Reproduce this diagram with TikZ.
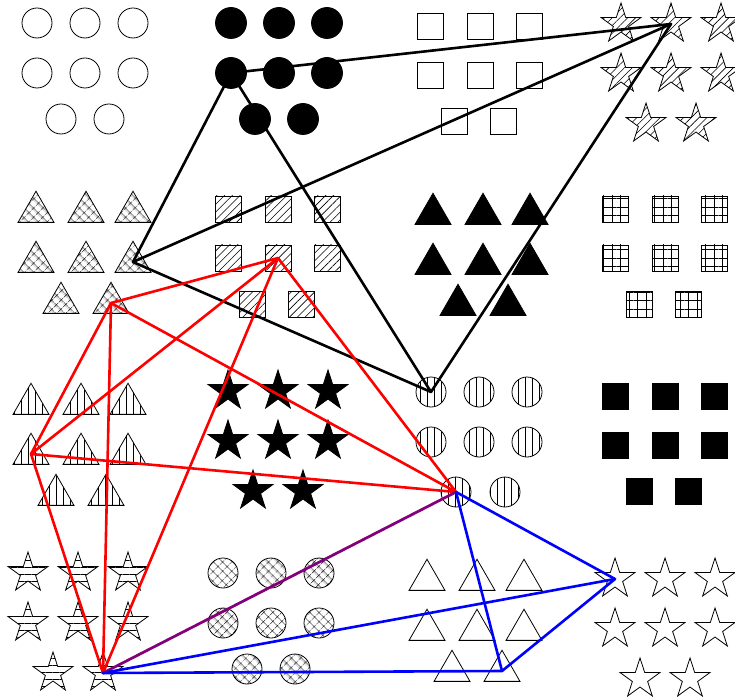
\documentclass[tikz,border=0pt]{standalone}
\usepackage{tikz}
\usetikzlibrary{shapes.geometric, patterns.meta}

% offsets of the 8 members of a group (3 + 3 + 2)
\def\circpos{1/0/0,2/48/0,3/96/0,4/0/50,5/48/50,6/96/50,7/24/96,8/72/96}
\def\vcircpos{1/0/0,2/48/0,3/96/0,4/0/50,5/48/50,6/96/50,7/25/100,8/74/100}
\def\boxpos{1/0/0,2/50/0,3/99/0,4/0/49,5/50/49,6/99/49,7/24/95,8/73/95}
\def\tripos{1/0/0,2/50/0,3/97/0,4/0/50,5/50/50,6/97/50,7/25/91,8/75/91}
\def\starpos{1/0/0,2/50/0,3/100/0,4/0/50,5/50/50,6/100/50,7/25/100,8/75/100}

\begin{document}
\begin{tikzpicture}[
    x=1pt, y=-1pt,
    shp/.style={draw=black, line width=0.8pt, inner sep=0pt, outer sep=0pt},
    opencirc/.style={shp, circle, minimum size=30pt},
    fillcirc/.style={shp, circle, fill=black, minimum size=31pt},
    vlcirc/.style={opencirc, pattern={Lines[angle=90, distance=7pt, line width=0.6pt]}},
    xcirc/.style={opencirc, pattern={Hatch[angle=45, distance=6.5pt, line width=0.5pt]}},
    openbox/.style={shp, rectangle, minimum size=26pt},
    fillbox/.style={openbox, fill=black},
    nebox/.style={openbox, pattern={Lines[angle=45, distance=5.5pt, line width=0.6pt]}},
    gridbox/.style={openbox, pattern={Hatch[angle=0, distance=8.5pt, line width=0.7pt]}},
    opentri/.style={shp, regular polygon, regular polygon sides=3, minimum size=41.5pt},
    filltri/.style={opentri, fill=black},
    vltri/.style={opentri, pattern={Lines[angle=90, distance=7pt, line width=0.6pt]}},
    xtri/.style={opentri, pattern={Hatch[angle=45, distance=6.5pt, line width=0.5pt]}},
    openstar/.style={shp, star, star points=5, star point ratio=2.618, minimum size=42pt},
    fillstar/.style={openstar, fill=black},
    nestar/.style={openstar, pattern={Lines[angle=45, distance=5.5pt, line width=0.6pt]}},
    hlstar/.style={openstar, pattern={Lines[angle=0, distance=7pt, line width=0.6pt]}},
    blackline/.style={draw=black, line width=2.6pt, line cap=round},
    redline/.style={draw=red, line width=2.6pt, line cap=round},
    blueline/.style={draw=blue, line width=2.6pt, line cap=round}
]
\useasboundingbox (0,0) rectangle (735,700);

% Row 1
\foreach \i/\dx/\dy in \circpos \node[opencirc] (oc-\i) at (37+\dx, 23+\dy) {};
\foreach \i/\dx/\dy in \circpos \node[fillcirc] (fc-\i) at (231+\dx, 23+\dy) {};
\foreach \i/\dx/\dy in \boxpos \node[openbox] (ob-\i) at (430+\dx, 26+\dy) {};
\foreach \i/\dx/\dy in \starpos \node[nestar] (ns-\i) at (621+\dx, 24+\dy) {};

% Row 2
\foreach \i/\dx/\dy in \tripos \node[xtri] (xt-\i) at (36+\dx, 212+\dy) {};
\foreach \i/\dx/\dy in \boxpos \node[nebox] (nb-\i) at (228+\dx, 209+\dy) {};
\foreach \i/\dx/\dy in \tripos \node[filltri] (ft-\i) at (433+\dx, 214+\dy) {};
\foreach \i/\dx/\dy in \boxpos \node[gridbox] (gb-\i) at (615+\dx, 209+\dy) {};

% Row 3
\foreach \i/\dx/\dy in \tripos \node[vltri] (vt-\i) at (31+\dx, 404+\dy) {};
\foreach \i/\dx/\dy in \starpos \node[fillstar] (fs-\i) at (228+\dx, 391+\dy) {};
\foreach \i/\dx/\dy in \vcircpos \node[vlcirc] (vc-\i) at (431+\dx, 392+\dy) {};
\foreach \i/\dx/\dy in \boxpos \node[fillbox] (fb-\i) at (615+\dx, 396+\dy) {};

% Row 4
\foreach \i/\dx/\dy in \starpos \node[hlstar] (hs-\i) at (28+\dx, 573+\dy) {};
\foreach \i/\dx/\dy in \circpos \node[xcirc] (xc-\i) at (223+\dx, 573+\dy) {};
\foreach \i/\dx/\dy in \tripos \node[opentri] (ot-\i) at (427+\dx, 580+\dy) {};
\foreach \i/\dx/\dy in \starpos \node[openstar] (os-\i) at (615+\dx, 579+\dy) {};

% black group
\foreach \a/\b in {fc-4/ns-2, fc-4/xt-6, fc-4/vc-1, ns-2/xt-6, ns-2/vc-1, xt-6/vc-1}
    \draw[blackline] (\a.center) -- (\b.center);

% red group
\foreach \a/\b in {nb-5/xt-8, nb-5/vt-4, nb-5/vc-7, nb-5/hs-8, xt-8/vt-4, xt-8/vc-7, xt-8/hs-8, vt-4/vc-7, vt-4/hs-8, vc-7/hs-8}
    \draw[redline] (\a.center) -- (\b.center);

% blue group
\foreach \a/\b in {vc-7/ot-8, vc-7/os-1, hs-8/ot-8, hs-8/os-1, ot-8/os-1}
    \draw[blueline] (\a.center) -- (\b.center);
\draw[blueline, draw opacity=0.5] (vc-7.center) -- (hs-8.center);

\end{tikzpicture}
\end{document}
